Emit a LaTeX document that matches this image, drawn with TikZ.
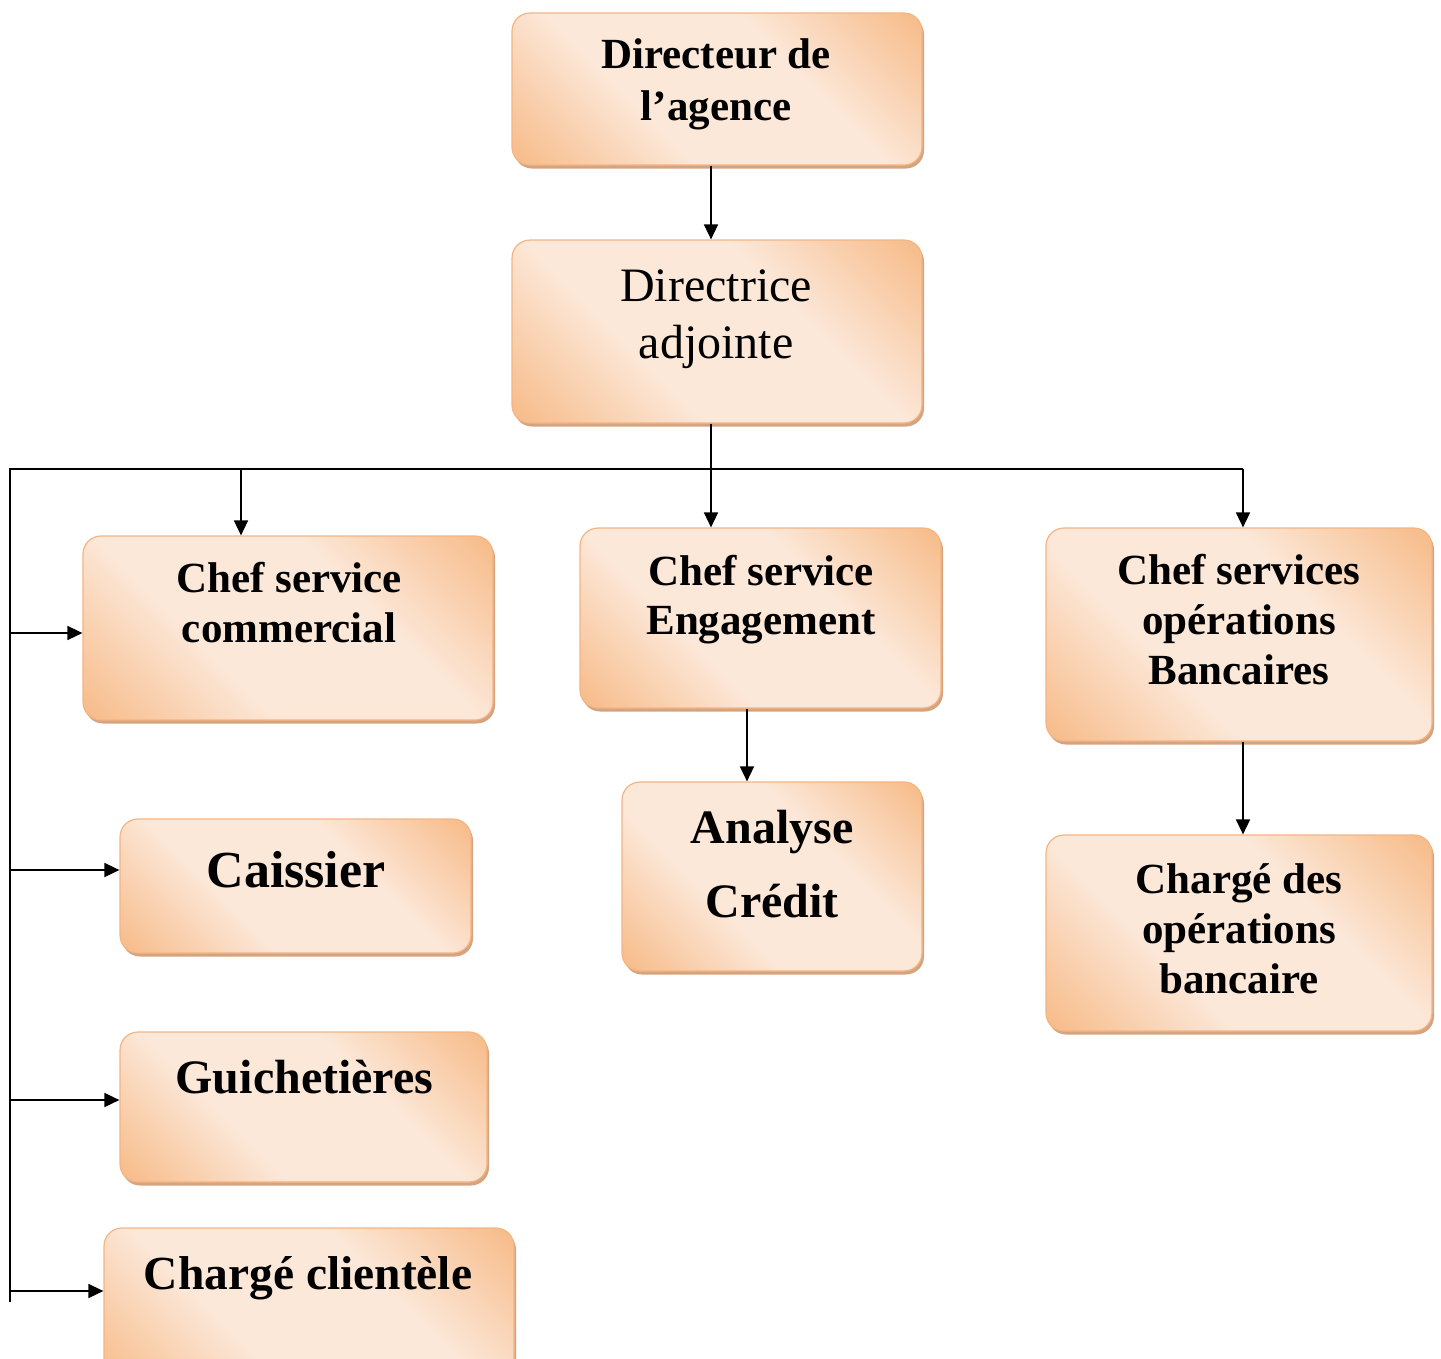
\documentclass[tikz,border=0pt]{standalone}
\usepackage{fontspec}
\setmainfont{Liberation Serif}
\usetikzlibrary{arrows.meta,shadows}
\definecolor{pdark}{RGB}{247,189,140}
\definecolor{plight}{RGB}{252,232,217}
\definecolor{pborder}{RGB}{245,180,130}
\definecolor{pshadow}{RGB}{212,163,128}
\pgfdeclarehorizontalshading{peach}{100bp}{color(0bp)=(pdark); color(16bp)=(pdark); color(38bp)=(plight); color(62bp)=(plight); color(84bp)=(pdark); color(100bp)=(pdark)}
\begin{document}
\begin{tikzpicture}[x=1pt,y=-1pt,
  box/.style={draw=pborder, line width=1.2pt, rounded corners=18pt, shading=peach, shading angle=45, inner sep=0pt,
    drop shadow={shadow xshift=2pt, shadow yshift=-3.5pt, fill=pshadow, opacity=1}},
  lbl/.style={anchor=north, align=center, inner sep=0pt, text=black},
  conn/.style={line width=1.6pt, black},
  arr/.style={conn, -{Triangle[length=15pt,width=14pt]}},
]
\useasboundingbox (0,0) rectangle (1441,1358);
\clip (0,0) rectangle (1441,1358);

% boxes
\node[box, minimum width=410pt, minimum height=152pt] (dir) at (717,89) {};
\node[box, minimum width=410pt, minimum height=183pt] (adj) at (717,331.5) {};
\node[box, minimum width=410pt, minimum height=184pt] (com) at (288,628) {};
\node[box, minimum width=361pt, minimum height=180pt] (eng) at (760.5,618) {};
\node[box, minimum width=386pt, minimum height=213pt] (ops) at (1239,634.5) {};
\node[box, minimum width=300pt, minimum height=189pt] (ana) at (772,876.5) {};
\node[box, minimum width=351pt, minimum height=134pt] (cai) at (295.5,886) {};
\node[box, minimum width=367pt, minimum height=150pt] (gui) at (303.5,1107) {};
\node[box, minimum width=386pt, minimum height=196pt] (chg) at (1239,933) {};
\node[box, minimum width=410pt, minimum height=162pt] (cli) at (309,1309) {};

% texts
\node[lbl, font=\fontsize{43}{52}\selectfont\bfseries] (dir-t) at (716,31.6) {\strut Directeur de\\\strut l’agence};
\node[lbl, font=\fontsize{48}{57}\selectfont] (adj-t) at (716,261.1) {\strut Directrice\\\strut adjointe};
\node[lbl, font=\fontsize{43}{50}\selectfont\bfseries] (com-t) at (289,557) {\strut Chef service\\\strut commercial};
\node[lbl, font=\fontsize{43}{49}\selectfont\bfseries] (eng-t) at (761,550.7) {\strut Chef service\\\strut Engagement};
\node[lbl, font=\fontsize{43}{50}\selectfont\bfseries] (ops-t) at (1239,549) {\strut Chef services\\\strut opérations\\\strut Bancaires};
\node[lbl, font=\fontsize{48}{74}\selectfont\bfseries] (ana-t) at (772,791.2) {\strut Analyse\\\strut Crédit};
\node[lbl, font=\fontsize{52}{68}\selectfont\bfseries] (cai-t) at (296,839.4) {\strut Caissier};
\node[lbl, font=\fontsize{48}{60}\selectfont\bfseries] (gui-t) at (304.5,1051) {\strut Guichetières};
\node[lbl, font=\fontsize{47.5}{60}\selectfont\bfseries] (cli-t) at (308,1247) {\strut Chargé clientèle};
\node[lbl, font=\fontsize{43}{50}\selectfont\bfseries] (chg-t) at (1239,858) {\strut Chargé des\\\strut opérations\\\strut bancaire};

% connector points
\coordinate (spine) at (711,469);
\coordinate (busL) at (10,469);
\coordinate (busR) at (1243,469);
\coordinate (busB) at (10,1302);
\coordinate (tcom) at (241,469);
\coordinate (xeng) at (747,0);
\coordinate (l1) at (10,633);
\coordinate (l2) at (10,870);
\coordinate (l3) at (10,1100);
\coordinate (l4) at (10,1291);

% connectors
\draw[arr] (dir.south -| spine) -- (adj.north -| spine);
\draw[conn] (adj.south -| spine) -- (spine);
\draw[conn] (busR) -- (busL) -- (busB);
\draw[arr] (tcom) -- (tcom |- com.north);
\draw[arr] (spine) -- (spine |- eng.north);
\draw[arr] (busR) -- (busR |- ops.north);
\draw[arr] (eng.south -| xeng) -- (ana.north -| xeng);
\draw[arr] (ops.south -| busR) -- (chg.north -| busR);
\draw[arr] (l1) -- (l1 -| com.west);
\draw[arr] (l2) -- (l2 -| cai.west);
\draw[arr] (l3) -- (l3 -| gui.west);
\draw[arr] (l4) -- (l4 -| cli.west);
\end{tikzpicture}
\end{document}
